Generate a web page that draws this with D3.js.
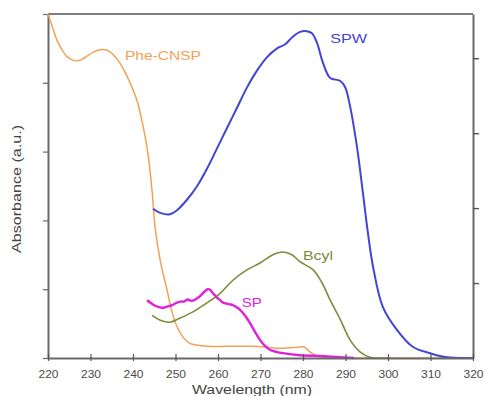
<!DOCTYPE html>
<html>
<head>
<meta charset="utf-8">
<script src="https://cdn.jsdelivr.net/npm/d3@7"></script>
<style>
  body { margin: 0; background: #fff; }
  text { font-family: "Liberation Sans", Arial, sans-serif; }
</style>
</head>
<body>
<div id="chart"></div>
<script>
// wavelength (nm) / absorbance (a.u.)
const pheWl = [220, 221, 222.1, 223.3, 224.5, 225.8, 227.1, 228.3, 229.4, 230.8, 232.2, 233.5, 234.6, 235.8, 236.9, 238.1, 239.3, 240.9, 242.4, 243.5, 244.5, 245.2, 246.4, 248, 249.4, 250.4, 251.8, 253.5, 255.1, 257.4, 262, 267.5, 271, 274.6, 277, 279.3, 280.3, 281.6, 283.3, 286.4, 295, 305, 320];
const pheAbs = [5.0, 4.82, 4.62, 4.48, 4.38, 4.33, 4.32, 4.35, 4.40, 4.45, 4.48, 4.48, 4.45, 4.38, 4.29, 4.16, 4.00, 3.75, 3.36, 2.98, 2.42, 1.90, 1.42, 0.99, 0.62, 0.45, 0.30, 0.21, 0.19, 0.17, 0.17, 0.17, 0.16, 0.14, 0.15, 0.16, 0.16, 0.09, 0.03, 0.0, 0.0, 0.0, 0.0];

const spwWl = [244.7, 246.4, 248.7, 250.4, 252.7, 255.1, 257.4, 259.8, 262.1, 264.5, 266.8, 269.2, 271.5, 273.9, 275.8, 277.6, 279.3, 280.9, 282.1, 283.3, 284.7, 286.4, 288.7, 289.9, 291.1, 292.7, 294.1, 295.1, 296.5, 298.8, 302.1, 305.9, 309.9, 313.9, 320];
const spwAbs = [2.17, 2.11, 2.09, 2.15, 2.30, 2.50, 2.75, 3.05, 3.34, 3.64, 3.93, 4.18, 4.37, 4.50, 4.56, 4.67, 4.74, 4.75, 4.72, 4.58, 4.29, 4.07, 4.03, 3.94, 3.65, 3.07, 2.40, 1.90, 1.32, 0.74, 0.41, 0.16, 0.07, 0.01, 0.0];

const bcylWl = [244.5, 246.4, 248.7, 251.1, 254.1, 257.4, 260.5, 263.5, 266.8, 269.9, 272.9, 275.3, 277.4, 279.3, 282.4, 284.5, 286.4, 288.7, 291.1, 293.4, 295.8, 300];
const bcylAbs = [0.62, 0.55, 0.52, 0.58, 0.67, 0.80, 0.94, 1.13, 1.28, 1.38, 1.50, 1.54, 1.50, 1.40, 1.28, 1.09, 0.84, 0.57, 0.26, 0.09, 0.01, 0.0];

const spWl = [243.3, 244.2, 245.2, 246.2, 247.1, 248.2, 249.2, 250.2, 251.1, 252, 252.9, 253.7, 254.4, 255.1, 255.8, 256.9, 257.6, 258.2, 258.8, 259.6, 260.5, 261.3, 262.1, 262.8, 263.5, 264.3, 265.2, 266.3, 267.5, 268.7, 269.9, 271, 272.2, 273.7, 275.3, 279.3, 284, 288.7, 292];
const spAbs = [0.84, 0.80, 0.76, 0.74, 0.73, 0.75, 0.77, 0.80, 0.82, 0.82, 0.85, 0.83, 0.84, 0.87, 0.90, 0.97, 1.00, 0.99, 0.94, 0.89, 0.84, 0.80, 0.79, 0.78, 0.77, 0.74, 0.70, 0.62, 0.51, 0.38, 0.26, 0.18, 0.12, 0.09, 0.07, 0.04, 0.03, 0.01, 0.0];

const xTicks = [220, 230, 240, 250, 260, 270, 280, 290, 300, 310, 320];
const yTicksLeft = [0, 1, 2, 3, 4, 5];
const yTicksRight = [1, 2, 3, 4];

const series = [
  { name: "Phe-CNSP", wl: pheWl, abs: pheAbs, color: "#f2a257", width: 1.5 },
  { name: "SPW", wl: spwWl, abs: spwAbs, color: "#4343d6", width: 2 },
  { name: "Bcyl", wl: bcylWl, abs: bcylAbs, color: "#7b8c3c", width: 1.6 },
  { name: "SP", wl: spWl, abs: spAbs, color: "#e020dc", width: 2.4 }
];

// curve labels (left edge / baseline)
const labels = [
  { text: "Phe-CNSP", wl: 238.1, abs: 4.33, len: 76 },
  { text: "SPW", wl: 286.4, abs: 4.58, len: 37 },
  { text: "Bcyl", wl: 280.0, abs: 1.42, len: 30 },
  { text: "SP", wl: 265.6, abs: 0.74, len: 20 }
];

const width = 485, height = 396;
const margin = { top: 14, right: 12, bottom: 38, left: 48 };

const svg = d3.select("#chart").append("svg")
  .attr("width", width)
  .attr("height", height);

const x = d3.scaleLinear().domain([220, 320]).range([margin.left, width - margin.right]);
const y = d3.scaleLinear().domain([0, 5]).range([height - margin.bottom, margin.top]);
// right axis has its own spacing
const yR = d3.scaleLinear().domain([0, 4.59]).range([height - margin.bottom, margin.top]);

const axisColor = "#6a6a6a";

// frame (top)
svg.append("line")
  .attr("x1", x(220)).attr("x2", x(320))
  .attr("y1", y(5)).attr("y2", y(5))
  .attr("stroke", "#555").attr("stroke-width", 1.5);

// left axis
const gl = svg.append("g")
  .attr("transform", `translate(${x(220)},0)`)
  .call(d3.axisLeft(y).tickValues(yTicksLeft).tickFormat("").tickSize(5).tickSizeOuter(0));
gl.select(".domain").attr("stroke", axisColor).attr("stroke-width", 2);
gl.selectAll(".tick line").attr("stroke", axisColor).attr("stroke-width", 1.2);

// right axis
const gr = svg.append("g")
  .attr("transform", `translate(${x(320)},0)`)
  .call(d3.axisRight(yR).tickValues(yTicksRight).tickFormat("").tickSize(6).tickSizeOuter(0));
gr.select(".domain").attr("stroke", axisColor).attr("stroke-width", 2);
gr.selectAll(".tick line").attr("stroke", "#555").attr("stroke-width", 1.4);

// curves
const line = d3.line()
  .x((d) => x(d[0]))
  .y((d) => y(d[1]))
  .curve(d3.curveCatmullRom.alpha(0.5));

svg.append("g")
  .selectAll("path")
  .data(series)
  .join("path")
  .attr("fill", "none")
  .attr("stroke", (d) => d.color)
  .attr("stroke-width", (d) => d.width)
  .attr("stroke-linejoin", "round")
  .attr("d", (d) => line(d.wl.map((w, i) => [w, d.abs[i]])));

// bottom axis (drawn over the curves, ticks cross the line)
const gb = svg.append("g")
  .attr("transform", `translate(0,${y(0)})`)
  .call(d3.axisBottom(x).tickValues(xTicks).tickSize(3).tickSizeOuter(0).tickPadding(9));
gb.select(".domain").attr("stroke", axisColor).attr("stroke-width", 2);
gb.selectAll(".tick line").attr("stroke", "#555").attr("stroke-width", 1.2).attr("y1", -4);
gb.selectAll(".tick text")
  .attr("fill", "#4a4a4a")
  .attr("font-size", 11)
  .attr("textLength", 20)
  .attr("lengthAdjust", "spacingAndGlyphs");

// curve labels
const color = d3.scaleOrdinal(series.map((d) => d.name), series.map((d) => d.color));
svg.append("g")
  .selectAll("text")
  .data(labels)
  .join("text")
  .attr("x", (d) => x(d.wl))
  .attr("y", (d) => y(d.abs))
  .attr("fill", (d) => color(d.text))
  .attr("font-size", 13)
  .attr("textLength", (d) => d.len)
  .attr("lengthAdjust", "spacingAndGlyphs")
  .text((d) => d.text);

// axis titles
svg.append("text")
  .attr("x", 252)
  .attr("y", 394)
  .attr("text-anchor", "middle")
  .attr("fill", "#444")
  .attr("font-size", 12)
  .attr("textLength", 120)
  .attr("lengthAdjust", "spacingAndGlyphs")
  .text("Wavelength (nm)");

svg.append("text")
  .attr("transform", "translate(21,189) rotate(-90)")
  .attr("text-anchor", "middle")
  .attr("fill", "#444")
  .attr("font-size", 12)
  .attr("textLength", 128)
  .attr("lengthAdjust", "spacingAndGlyphs")
  .text("Absorbance (a.u.)");
</script>
</body>
</html>
